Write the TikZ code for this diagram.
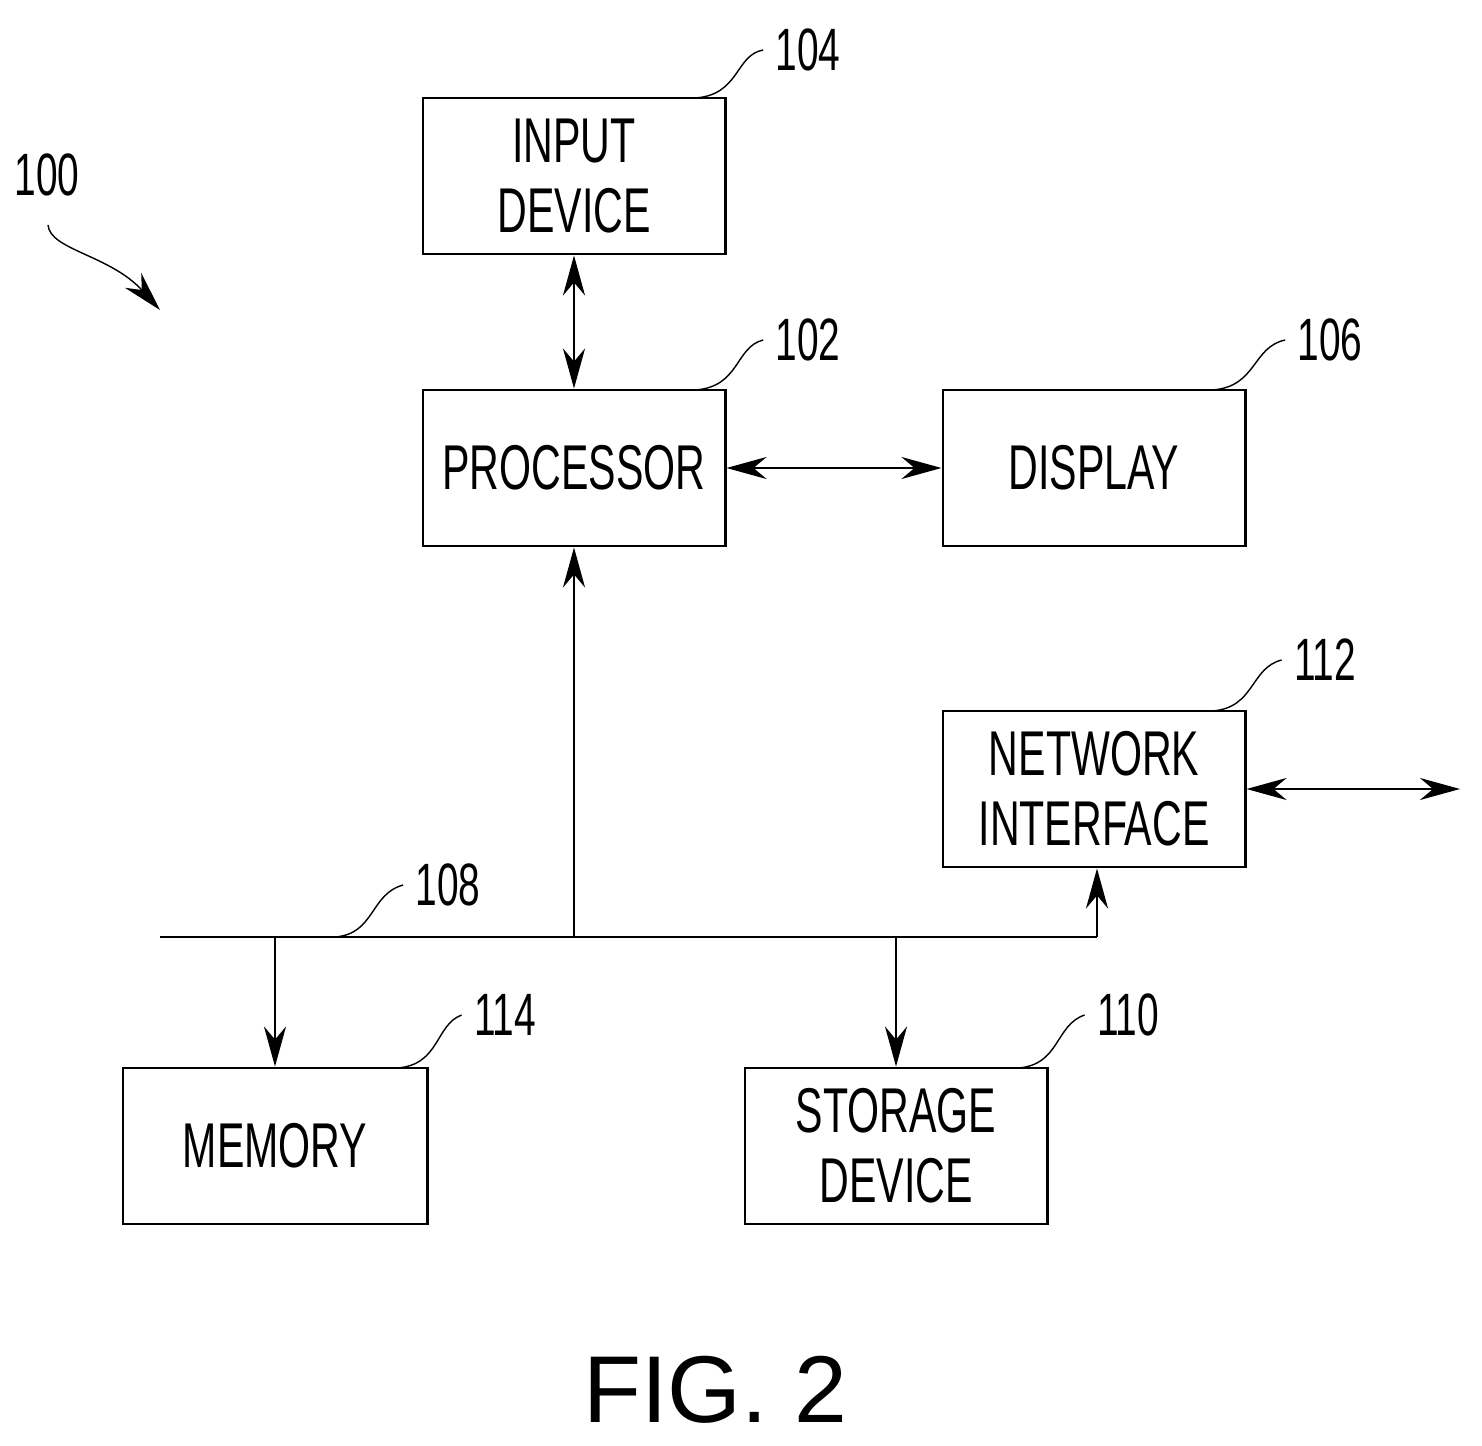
\documentclass[tikz,border=0pt]{standalone}
\usepackage{fontspec}
\setmainfont{Liberation Sans}
\newfontfamily\narrowfont[FakeStretch=0.65]{Liberation Sans}
\usetikzlibrary{arrows.meta}
\tikzset{
  blk/.style={draw,thick,minimum width=3.02cm,minimum height=1.56cm,inner sep=1pt,align=center,font=\narrowfont\fontsize{18}{20}\selectfont},
  ref/.style={font=\narrowfont\fontsize{17}{20}\selectfont},
  conn/.style={thick,-{Stealth[length=4mm,width=2.2mm]}},
  dconn/.style={thick,{Stealth[length=4mm,width=2.2mm]}-{Stealth[length=4mm,width=2.2mm]}},
  lead/.style={thin}
}
\begin{document}
\begin{tikzpicture}[x=0.01cm,y=-0.01cm]
\useasboundingbox (0,0) rectangle (1482,1446);

%%%Blocks
\node[blk] (input) at (574,176) {INPUT\\DEVICE};
\node[blk] (proc) at (574,468) {PROCESSOR};
\node[blk] (disp) at (1094,468) {DISPLAY};
\node[blk] (net) at (1094,789) {NETWORK\\INTERFACE};
\node[blk,minimum width=3.04cm] (mem) at (275,1146) {MEMORY};
\node[blk] (stor) at (896,1146) {STORAGE\\DEVICE};

%%%Bus and taps
\coordinate (busl) at (160,937);
\coordinate (busr) at (1097,937);
\draw[thick] (busl) -- (busr);
\coordinate (tproc) at (574,937);
\coordinate (tmem) at (275,937);
\coordinate (tstor) at (896,937);
\coordinate (nout) at (1460,789);
\draw[conn] (tproc) -- (proc.south);
\draw[conn] (busr) -- (busr|-net.south);
\draw[conn] (tmem) -- (mem.north);
\draw[conn] (tstor) -- (stor.north);

%%%Links between blocks
\draw[dconn] (input.south) -- (proc.north);
\draw[dconn] (proc.east) -- (disp.west);
\draw[dconn] (net.east) -- (nout);

%%%Reference numerals and leaders
\node[ref] (r104) at (808,50) {104};
\node[ref] (r102) at (808,340) {102};
\node[ref] (r106) at (1330,340) {106};
\node[ref] (r112) at (1325,660) {112};
\node[ref] (r108) at (448,885) {108};
\node[ref] (r114) at (505,1015) {114};
\node[ref] (r110) at (1128,1015) {110};
\node[ref] (r100) at (47,175) {100};
\draw[lead] (695,98) .. controls (740,95) and (735,55) .. (r104.west);
\draw[lead] (695,390) .. controls (740,387) and (735,347) .. (r102.west);
\draw[lead] (1212,390) .. controls (1257,387) and (1252,347) .. (r106.west);
\draw[lead] (1212,711) .. controls (1255,708) and (1250,668) .. (r112.west);
\draw[lead] (335,937) .. controls (375,934) and (370,894) .. (r108.west);
\draw[lead] (397,1068) .. controls (440,1065) and (435,1025) .. (r114.west);
\draw[lead] (1018,1068) .. controls (1060,1065) and (1055,1025) .. (r110.west);
\coordinate (a100) at (160,310);
\draw[thin,-{Stealth[length=4mm,width=2.2mm]}] (48,225) .. controls (50,250) and (110,255) .. (a100);

%%%Caption
\node[font=\fontsize{27}{30}\selectfont] (cap) at (715,1390) {FIG. 2};
\end{tikzpicture}
\end{document}
